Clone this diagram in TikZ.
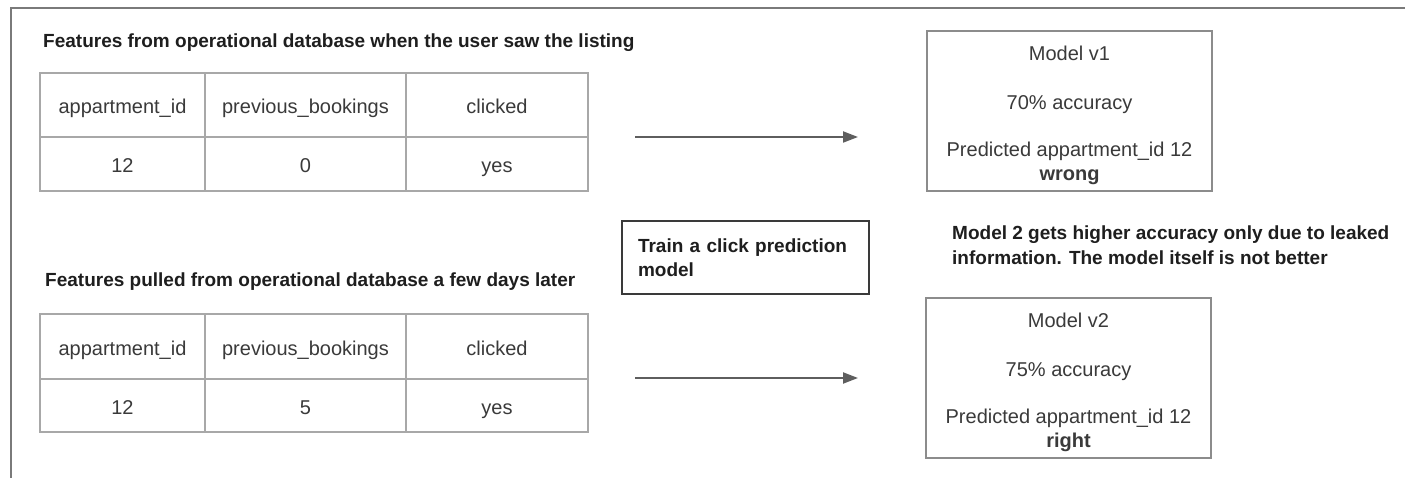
\documentclass[tikz,border=0pt]{standalone}
\usepackage{fontspec}
\setmainfont{Liberation Sans}
\usetikzlibrary{arrows.meta}
\definecolor{txt}{HTML}{3A3A3A}
\definecolor{boldtxt}{HTML}{1E1E1E}
\definecolor{gridline}{HTML}{A8A8A8}
\definecolor{boxline}{HTML}{8C8C8C}
\definecolor{darkline}{HTML}{3A3A3A}
\definecolor{arrowcol}{HTML}{5E5E5E}
\definecolor{framecol}{HTML}{7A7A7A}
\tikzset{
  cell/.style={draw=gridline, line width=1.4pt, outer sep=0pt, inner sep=0pt,
    anchor=north west, text=txt, text height=18pt, text depth=1pt,
    font=\fontsize{20}{24}\selectfont},
  heading/.style={anchor=west, inner sep=0pt, text=boldtxt,
    font=\bfseries\fontsize{19}{25}\selectfont},
  modelbox/.style={draw=boxline, line width=1.4pt, outer sep=0pt, inner sep=0pt,
    anchor=north west, minimum width=285pt, minimum height=160pt,
    align=center, text=txt, font=\fontsize{20}{24}\selectfont},
  trainbox/.style={draw=darkline, line width=1.4pt, outer sep=0pt,
    anchor=north west, minimum width=247pt, minimum height=73pt,
    inner xsep=16pt, align=left, text=boldtxt, text width=215pt,
    font=\bfseries\fontsize{19}{24}\selectfont},
  flow/.style={draw=arrowcol, line width=2pt,
    -{Triangle[length=15pt, width=11pt]}},
  frameline/.style={draw=framecol, line width=2pt}
}
% extra room above the first line of a model box
\newcommand{\topgap}{\rule{0pt}{22.5pt}}
\begin{document}
\begin{tikzpicture}[x=1pt, y=-1pt]
\useasboundingbox[fill=white] (0,0) rectangle (1405,478);

% outer frame (top and left edges)
\draw[frameline] (11,478) -- (11,8) -- (1405,8);

% first feature table
\node[heading] (title1) at (43,43) {Features from operational database when the user saw the listing};
\node[cell, minimum width=165pt, minimum height=64pt] (t1h1) at (40,73) {appartment\_id};
\node[cell, minimum width=201pt, minimum height=64pt] (t1h2) at (t1h1.north east) {previous\_bookings};
\node[cell, minimum width=182pt, minimum height=64pt] (t1h3) at (t1h2.north east) {clicked};
\node[cell, minimum width=165pt, minimum height=54pt] (t1r1) at (t1h1.south west) {12};
\node[cell, minimum width=201pt, minimum height=54pt] (t1r2) at (t1h2.south west) {0};
\node[cell, minimum width=182pt, minimum height=54pt] (t1r3) at (t1h3.south west) {yes};

% second feature table
\node[heading] (title2) at (45,282) {Features pulled from operational database a few days later};
\node[cell, minimum width=165pt, minimum height=65pt] (t2h1) at (40,314) {appartment\_id};
\node[cell, minimum width=201pt, minimum height=65pt] (t2h2) at (t2h1.north east) {previous\_bookings};
\node[cell, minimum width=182pt, minimum height=65pt] (t2h3) at (t2h2.north east) {clicked};
\node[cell, minimum width=165pt, minimum height=53pt] (t2r1) at (t2h1.south west) {12};
\node[cell, minimum width=201pt, minimum height=53pt] (t2r2) at (t2h2.south west) {5};
\node[cell, minimum width=182pt, minimum height=53pt] (t2r3) at (t2h3.south west) {yes};

% training step
\node[trainbox] (train) at (622,221) {Train a click prediction\\model};

% models
\node[modelbox] (m1) at (927,31) {\topgap Model v1\\[25pt]70\% accuracy\\[23pt]Predicted appartment\_id 12\\\textbf{wrong}};
\node[modelbox] (m2) at (926,298) {\topgap Model v2\\[25pt]75\% accuracy\\[23pt]Predicted appartment\_id 12\\\textbf{right}};

% remark about the leak
\node[heading, anchor=north west, align=left] (note) at (952,226)
  {Model 2 gets higher accuracy only due to leaked\\information. The model itself is not better};

% arrows
\coordinate (a1s) at (635,137);
\coordinate (a1e) at (858,137);
\coordinate (a2s) at (635,378);
\coordinate (a2e) at (858,378);
\draw[flow] (a1s) -- (a1e);
\draw[flow] (a2s) -- (a2e);
\end{tikzpicture}
\end{document}
